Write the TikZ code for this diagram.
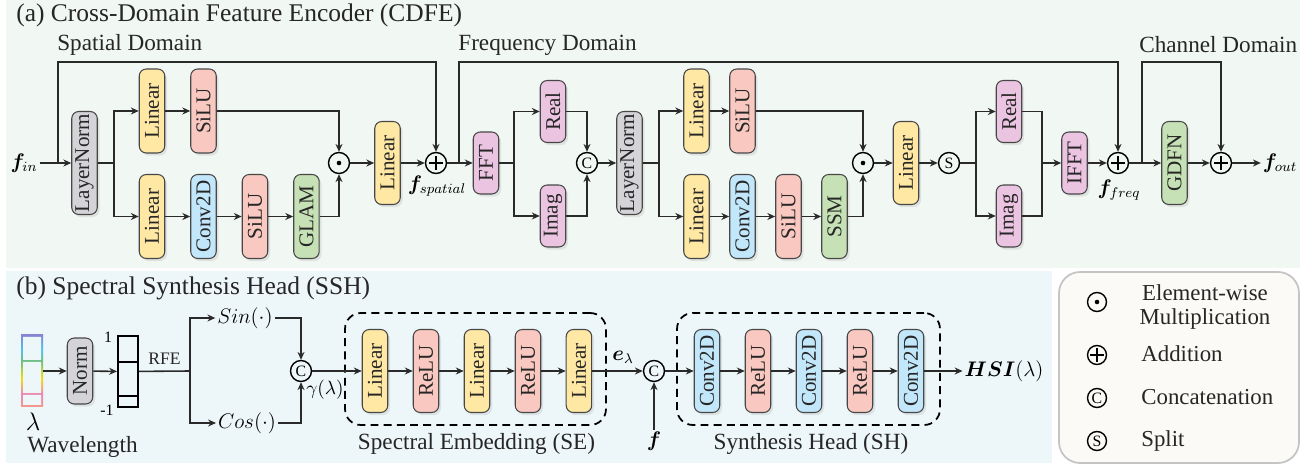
\documentclass[tikz,border=0pt]{standalone}
\usepackage{fontspec}
\setmainfont{Liberation Serif}
\usepackage{bm}
\usepackage{graphicx}
\usetikzlibrary{arrows.meta,shadows,positioning}

\definecolor{bgtop}{HTML}{F1F7F3}
\definecolor{bgbot}{HTML}{EDF6F8}
\definecolor{bglegend}{HTML}{FBFAF7}
\definecolor{legendedge}{HTML}{C4C4C4}
\definecolor{edge}{HTML}{474747}
\definecolor{wirec}{HTML}{2A2A2A}
\definecolor{clin}{HTML}{FFE8A4}
\definecolor{cact}{HTML}{F9C9C1}
\definecolor{cconv}{HTML}{C3E7FA}
\definecolor{cgreen}{HTML}{C6E1B6}
\definecolor{cnorm}{HTML}{D4D4D8}
\definecolor{cfreq}{HTML}{EBC4E1}
\definecolor{rbsalmon}{HTML}{F39A88}
\definecolor{rbpink}{HTML}{EC86BA}
\definecolor{rbyellow}{HTML}{F2DE0A}
\definecolor{rbgreen}{HTML}{6DBE7E}
\definecolor{rbcyan}{HTML}{4EC3EE}
\definecolor{rbpurple}{HTML}{8585D6}

\pgfdeclareverticalshading{rainbowbar}{100bp}{color(0bp)=(rbsalmon); color(25bp)=(rbsalmon); color(34bp)=(rbpink); color(45bp)=(rbyellow); color(57bp)=(rbgreen); color(65bp)=(rbcyan); color(75bp)=(rbpurple); color(100bp)=(rbpurple)}

\newcommand{\vlabel}[1]{\rotatebox{90}{#1}}

\begin{document}
\begin{tikzpicture}[
  x=0.02cm, y=-0.02cm,
  >={Stealth[length=4.5pt,width=4pt]},
  wire/.style={draw=wirec, line width=0.9pt},
  box/.style={rectangle, rounded corners=4pt, draw=edge, line width=0.6pt, minimum width=0.51cm, minimum height=1.68cm, inner sep=0pt, text=black!85, font=\fontsize{12}{12}\selectfont, drop shadow={shadow xshift=1.3pt, shadow yshift=-1.5pt, opacity=0.16}},
  linbox/.style={box, fill=clin},
  actbox/.style={box, fill=cact},
  convbox/.style={box, fill=cconv},
  modbox/.style={box, fill=cgreen},
  normbox/.style={box, fill=cnorm},
  freqbox/.style={box, fill=cfreq, minimum height=1.24cm},
  op/.style={circle, draw=black, line width=0.8pt, minimum size=0.42cm, inner sep=0pt, font=\fontsize{9}{9}\selectfont},
  addop/.style={op, path picture={\draw[line width=0.8pt] (path picture bounding box.center) ++(0,3.8pt) -- ++(0,-7.6pt) (path picture bounding box.center) ++(-3.8pt,0) -- ++(7.6pt,0);}},
  mulop/.style={op, path picture={\fill (path picture bounding box.center) circle (1.3pt);}},
  paneltitle/.style={anchor=west, inner sep=0pt, text=black!85, font=\fontsize{14.5}{16}\selectfont},
  domainlabel/.style={anchor=west, inner sep=0pt, text=black!85, font=\fontsize{13.2}{15}\selectfont},
  sym/.style={inner sep=1pt, font=\fontsize{12}{14}\selectfont},
  groupbox/.style={draw=black, dash pattern=on 4.5pt off 3pt, line width=1pt, rounded corners=9pt, minimum width=5.22cm, minimum height=2.24cm},
  grouplabel/.style={text=black!85, font=\fontsize{13.2}{15}\selectfont},
  legendtext/.style={anchor=west, inner sep=0pt, text=black!85, font=\fontsize{13}{13.5}\selectfont}
]
\useasboundingbox (0,0) rectangle (1314,465);
\fill[bgtop] (6,0) rectangle (1300,268);
\fill[bgbot] (6,271) rectangle (1052,463);
\draw[legendedge, fill=bglegend, line width=1pt, rounded corners=12pt] (1059,272) rectangle (1299,463);

\node[paneltitle] (ta) at (16,15) {(a) Cross-Domain Feature Encoder (CDFE)};
\node[domainlabel] (dspat) at (57,45) {Spatial Domain};
\node[domainlabel] (dfreq) at (458,45) {Frequency Domain};
\node[domainlabel] (dchan) at (1139,45) {Channel Domain};

\node[sym] (fin) at (24,163) {$\bm{f}_{in}$};
\coordinate (sk1) at (58,163);
\node[normbox, minimum height=2.06cm] (ln1) at (84.5,163) {\vlabel{LayerNorm}};
\coordinate (br1) at (114,163);
\node[linbox] (lin1) at (152,111) {\vlabel{Linear}};
\node[actbox, right of=lin1, node distance=1.03cm] (silu1) {\vlabel{SiLU}};
\node[linbox] (lin2) at (152,216.5) {\vlabel{Linear}};
\node[convbox, right of=lin2, node distance=1.03cm] (conv1) {\vlabel{Conv2D}};
\node[actbox, right of=conv1, node distance=1.03cm] (silu2) {\vlabel{SiLU}};
\node[modbox, right of=silu2, node distance=1.03cm] (glam) {\vlabel{GLAM}};
\node[mulop] (mul1) at (339,163) {};
\node[linbox, minimum height=1.66cm] (lin3) at (387.5,163) {\vlabel{Linear}};
\node[addop] (add1) at (436,163) {};
\node[sym] (fsp) at (437,186) {$\bm{f}_{spatial}$};

\coordinate (sk2) at (459,163);
\node[freqbox] (fft) at (486,163) {\vlabel{FFT}};
\coordinate (br2) at (514,163);
\node[freqbox] (real1) at (553,111.5) {\vlabel{Real}};
\node[freqbox] (imag1) at (553,216) {\vlabel{Imag}};
\node[op] (cat1) at (587,163) {C};
\node[normbox, minimum height=2.06cm] (ln2) at (629.5,163) {\vlabel{LayerNorm}};
\coordinate (br3) at (659,163);
\node[linbox] (lin4) at (696.5,111) {\vlabel{Linear}};
\node[actbox, right of=lin4, node distance=0.92cm] (silu3) {\vlabel{SiLU}};
\node[linbox] (lin5) at (696.5,216.5) {\vlabel{Linear}};
\node[convbox, right of=lin5, node distance=0.92cm] (conv2) {\vlabel{Conv2D}};
\node[actbox, right of=conv2, node distance=0.92cm] (silu4) {\vlabel{SiLU}};
\node[modbox, right of=silu4, node distance=0.92cm] (ssm) {\vlabel{SSM}};
\node[mulop] (mul2) at (863,163) {};
\node[linbox, minimum height=1.66cm] (lin6) at (906,163) {\vlabel{Linear}};
\node[op] (spl) at (949,163) {S};
\coordinate (br4) at (976,163);
\node[freqbox] (real2) at (1009,111.5) {\vlabel{Real}};
\node[freqbox] (imag2) at (1009,216) {\vlabel{Imag}};
\coordinate (mg) at (1042,163);
\node[freqbox] (ifft) at (1074.5,163) {\vlabel{IFFT}};
\node[addop] (add2) at (1118,163) {};
\node[sym] (ffreq) at (1119,190) {$\bm{f}_{freq}$};

\coordinate (sk3) at (1142,163);
\node[modbox, minimum height=1.66cm] (gdfn) at (1174.5,163) {\vlabel{GDFN}};
\node[addop] (add3) at (1221,163) {};
\node[sym] (fout) at (1280,163) {$\bm{f}_{out}$};

\draw[->,wire] (fin) -- (ln1);
\draw[->,wire] (sk1) -- ++(0,-101) -| (add1);
\draw[wire] (ln1) -- (br1);
\draw[->,wire] (br1) |- (lin1);
\draw[->,wire] (br1) |- (lin2);
\draw[->,wire] (lin1) -- (silu1);
\draw[->,wire] (silu1) -| (mul1);
\draw[->,wire] (lin2) -- (conv1);
\draw[->,wire] (conv1) -- (silu2);
\draw[->,wire] (silu2) -- (glam);
\draw[->,wire] (glam) -| (mul1);
\draw[->,wire] (mul1) -- (lin3);
\draw[->,wire] (lin3) -- (add1);
\draw[->,wire] (add1) -- (fft);
\draw[->,wire] (sk2) -- ++(0,-101) -| (add2);
\draw[wire] (fft) -- (br2);
\draw[->,wire] (br2) |- (real1);
\draw[->,wire] (br2) |- (imag1);
\draw[->,wire] (real1) -| (cat1);
\draw[->,wire] (imag1) -| (cat1);
\draw[->,wire] (cat1) -- (ln2);
\draw[wire] (ln2) -- (br3);
\draw[->,wire] (br3) |- (lin4);
\draw[->,wire] (br3) |- (lin5);
\draw[->,wire] (lin4) -- (silu3);
\draw[->,wire] (silu3) -| (mul2);
\draw[->,wire] (lin5) -- (conv2);
\draw[->,wire] (conv2) -- (silu4);
\draw[->,wire] (silu4) -- (ssm);
\draw[->,wire] (ssm) -| (mul2);
\draw[->,wire] (mul2) -- (lin6);
\draw[->,wire] (lin6) -- (spl);
\draw[wire] (spl) -- (br4);
\draw[->,wire] (br4) |- (real2);
\draw[->,wire] (br4) |- (imag2);
\draw[wire] (real2) -| (mg);
\draw[wire] (imag2) -| (mg);
\draw[->,wire] (mg) -- (ifft);
\draw[->,wire] (ifft) -- (add2);
\draw[->,wire] (add2) -- (gdfn);
\draw[->,wire] (sk3) -- ++(0,-101) -| (add3);
\draw[->,wire] (gdfn) -- (add3);
\draw[->,wire] (add3) -- (fout);

\node[paneltitle] (tb) at (16,288) {(b) Spectral Synthesis Head (SSH)};
\shade[shading=rainbowbar] (21,335) rectangle (43,407);
\fill[bgbot] (23,337) rectangle (41,360) (23,362) rectangle (41,393) (23,395) rectangle (41,405);
\node[minimum width=0.44cm, minimum height=1.44cm, inner sep=0pt] (wl) at (32,371) {};
\node[sym, font=\fontsize{14}{14}\selectfont] (lam) at (33,422) {$\lambda$};
\node[grouplabel] (wlen) at (82.5,447) {Wavelength};
\node[normbox, minimum height=1.32cm] (norm) at (80,371) {\vlabel{Norm}};
\node[draw=black, line width=1.1pt, minimum width=0.4cm, minimum height=1.42cm, inner sep=0pt] (vec) at (128,371.5) {};
\draw[black, line width=1.1pt] (118,362) -- (138,362) (118,396) -- (138,396);
\node[font=\fontsize{9}{9}\selectfont, inner sep=0pt] (vtop) at (108,337) {1};
\node[font=\fontsize{9}{9}\selectfont, inner sep=0pt] (vbot) at (107,410) {-1};
\coordinate (br5) at (190,371);
\node[sym] (sin) at (245,318) {$Sin(\cdot)$};
\node[sym] (cos) at (247,423) {$Cos(\cdot)$};
\node[op] (cat2) at (301,371) {C};
\node[sym, font=\fontsize{10.5}{12}\selectfont] (gam) at (325,390) {$\gamma(\lambda)$};

\node[groupbox] (se) at (475.5,369) {};
\node[grouplabel] (selab) at (476.5,444) {Spectral Embedding (SE)};
\node[linbox, minimum height=1.66cm] (lin7) at (375,371) {\vlabel{Linear}};
\node[actbox, minimum height=1.66cm, right of=lin7, node distance=1.02cm] (relu1) {\vlabel{ReLU}};
\node[linbox, minimum height=1.66cm, right of=relu1, node distance=1.02cm] (lin8) {\vlabel{Linear}};
\node[actbox, minimum height=1.66cm, right of=lin8, node distance=1.02cm] (relu2) {\vlabel{ReLU}};
\node[linbox, minimum height=1.66cm, right of=relu2, node distance=1.02cm] (lin9) {\vlabel{Linear}};
\node[op] (cat3) at (654,371) {C};
\node[sym] (elam) at (623,357) {$\bm{e}_{\lambda}$};
\node[sym] (fvec) at (654,441) {$\bm{f}$};

\node[groupbox, minimum width=5.26cm] (sh) at (808.5,369) {};
\node[grouplabel] (shlab) at (811,444) {Synthesis Head (SH)};
\node[convbox, minimum height=1.66cm] (conv3) at (707,371) {\vlabel{Conv2D}};
\node[actbox, minimum height=1.66cm, right of=conv3, node distance=1.02cm] (relu3) {\vlabel{ReLU}};
\node[convbox, minimum height=1.66cm, right of=relu3, node distance=1.02cm] (conv4) {\vlabel{Conv2D}};
\node[actbox, minimum height=1.66cm, right of=conv4, node distance=1.02cm] (relu4) {\vlabel{ReLU}};
\node[convbox, minimum height=1.66cm, right of=relu4, node distance=1.02cm] (conv5) {\vlabel{Conv2D}};
\node[sym, font=\fontsize{13}{14}\selectfont] (hsi) at (1004,371) {$\bm{HSI}(\lambda)$};

\draw[->,wire] (wl) -- (norm);
\draw[->,wire] (norm) -- (vec);
\draw[wire] (vec) -- node[above, font=\fontsize{10}{10}\selectfont, text=black!85] {RFE} (br5);
\draw[->,wire] (br5) |- (sin);
\draw[->,wire] (br5) |- (cos);
\draw[->,wire] (sin) -| (cat2);
\draw[->,wire] (cos) -| (cat2);
\draw[->,wire] (cat2) -- (lin7);
\draw[->,wire] (lin7) -- (relu1);
\draw[->,wire] (relu1) -- (lin8);
\draw[->,wire] (lin8) -- (relu2);
\draw[->,wire] (relu2) -- (lin9);
\draw[->,wire] (lin9) -- (cat3);
\draw[->,wire] (fvec) -- (cat3);
\draw[->,wire] (cat3) -- (conv3);
\draw[->,wire] (conv3) -- (relu3);
\draw[->,wire] (relu3) -- (conv4);
\draw[->,wire] (conv4) -- (relu4);
\draw[->,wire] (relu4) -- (conv5);
\draw[->,wire] (conv5) -- (hsi);

\node[mulop, minimum size=0.38cm] (lg1) at (1097,302) {};
\node[addop, minimum size=0.38cm] (lg2) at (1097,355) {};
\node[op, minimum size=0.38cm] (lg3) at (1097,398) {C};
\node[op, minimum size=0.38cm] (lg4) at (1097,441) {S};
\node[legendtext, anchor=center, align=center] (lt1) at (1205,307) {Element-wise\\Multiplication};
\node[legendtext] (lt2) at (1141,354) {Addition};
\node[legendtext] (lt3) at (1141,397) {Concatenation};
\node[legendtext] (lt4) at (1141,441) {Split};
\end{tikzpicture}
\end{document}
